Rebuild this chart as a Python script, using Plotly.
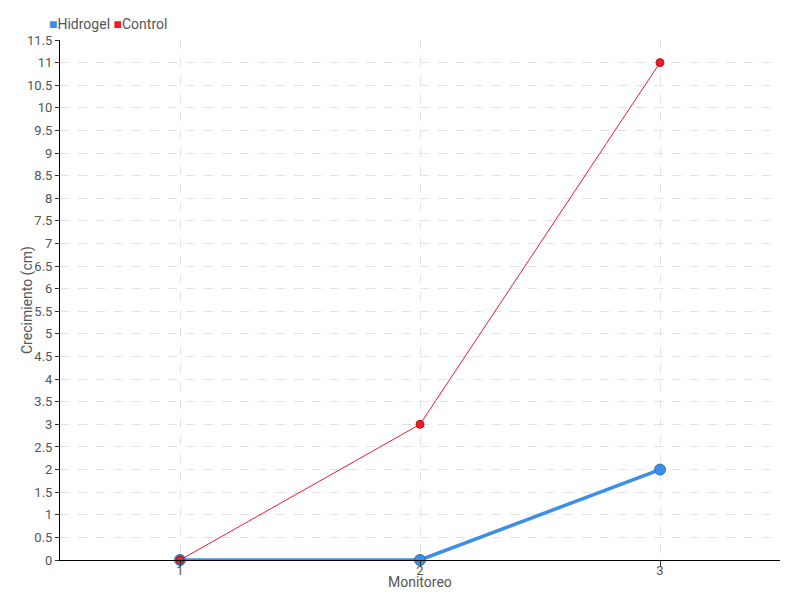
import plotly.graph_objects as go

monitoreo = [1, 2, 3]
hidrogel = [0, 0, 2]
control = [0, 3, 11]
series_names = ["Hidrogel", "Control"]

FONT = "Roboto, sans-serif"
BLUE = "#3d8ee8"
RED = "#ec1c2a"
TXT = "#555555"

fig = go.Figure()
fig.add_trace(go.Scatter(
    x=monitoreo, y=hidrogel, mode="lines+markers", name=series_names[0],
    line=dict(color=BLUE, width=3.5), cliponaxis=False,
    marker=dict(color=BLUE, size=11, line=dict(color="#2a6fc0", width=1)),
))
fig.add_trace(go.Scatter(
    x=monitoreo, y=control, mode="lines+markers", name=series_names[1],
    line=dict(color=RED, width=1), cliponaxis=False,
    marker=dict(color=RED, size=8, line=dict(color="#c0101c", width=1)),
))

legend_text = (
    f"<span style='color:{BLUE}'>■</span>{series_names[0]} "
    f"<span style='color:{RED}'>■</span>{series_names[1]}"
)

fig.update_layout(
    width=792, height=592,
    margin=dict(l=52, r=20, t=32, b=40, autoexpand=False),
    paper_bgcolor="white", plot_bgcolor="white",
    font=dict(family=FONT, size=13, color=TXT),
    showlegend=False,
    xaxis=dict(
        range=[0.5, 3.5], tickvals=monitoreo, ticktext=[str(v) for v in monitoreo],
        showgrid=True, gridcolor="#e2e2e2", griddash="dash",
        showline=True, linecolor="black", linewidth=1,
        ticks="outside", ticklen=6, tickcolor="#333", ticklabelstandoff=-8,
        zeroline=False, automargin=False,
    ),
    yaxis=dict(
        range=[0, 11.5], dtick=0.5, tick0=0,
        showgrid=True, gridcolor="#e2e2e2", griddash="dash",
        showline=True, linecolor="black", linewidth=1,
        ticks="outside", ticklen=4, tickcolor="#333",
        zeroline=False, automargin=False,
    ),
    annotations=[
        dict(text=legend_text, xref="paper", yref="paper", x=-0.018, y=1.0,
             xanchor="left", yanchor="bottom", yshift=6, showarrow=False,
             font=dict(size=14, color=TXT)),
        dict(text="Monitoreo", xref="paper", yref="paper", x=0.5, y=0,
             xanchor="center", yanchor="middle", yshift=-22, showarrow=False,
             font=dict(size=14, color=TXT)),
        dict(text="Crecimiento (cm)", xref="paper", yref="paper", x=0, y=0.5,
             xanchor="center", yanchor="middle", xshift=-33, textangle=-90,
             showarrow=False, font=dict(size=14, color=TXT)),
    ],
)

fig.write_html("out.html")
